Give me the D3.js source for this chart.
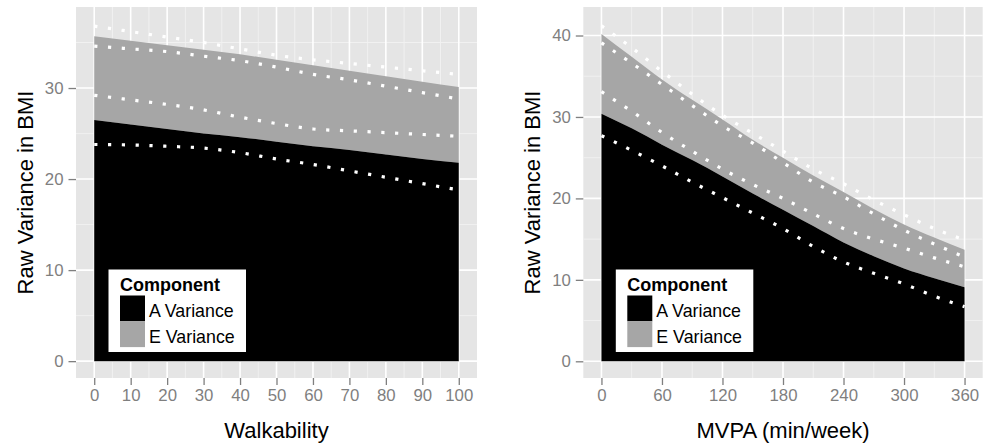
<!DOCTYPE html>
<html>
<head>
<meta charset="utf-8">
<script src="https://cdn.jsdelivr.net/npm/d3@7"></script>
<style>
  html, body { margin: 0; padding: 0; background: #ffffff; }
  svg { display: block; font-family: "Liberation Sans", Arial, sans-serif; }
</style>
</head>
<body>
<svg id="chart" width="989" height="446"></svg>
<script>
// ---------- DATA ----------
const legendTitle = "Component";
const components = ["A Variance", "E Variance"];
const yTitle = "Raw Variance in BMI";

// Left panel: Walkability
const walkX = [0, 10, 20, 30, 40, 50, 60, 70, 80, 90, 100];
const walkA = [26.5, 26.0, 25.5, 25.0, 24.6, 24.1, 23.6, 23.2, 22.7, 22.2, 21.8];
const walkTotal = [35.7, 35.2, 34.7, 34.2, 33.7, 33.1, 32.5, 31.9, 31.3, 30.7, 30.1];
const walkTotalHi = [36.8, 36.2, 35.6, 35.0, 34.3, 33.6, 33.1, 32.7, 32.3, 31.9, 31.5];
const walkTotalLo = [34.6, 34.3, 34.0, 33.5, 33.0, 32.3, 31.5, 30.9, 30.2, 29.5, 28.8];
const walkAHi = [29.2, 28.7, 28.2, 27.6, 26.8, 26.1, 25.5, 25.3, 25.1, 24.9, 24.7];
const walkALo = [23.8, 23.75, 23.6, 23.4, 22.9, 22.2, 21.6, 20.9, 20.2, 19.5, 18.8];
const walkXTicks = [0, 10, 20, 30, 40, 50, 60, 70, 80, 90, 100];
const walkYTicks = [0, 10, 20, 30];

// Right panel: MVPA
const mvpaX = [0, 30, 60, 90, 120, 150, 180, 210, 240, 270, 300, 330, 360];
const mvpaA = [30.4, 28.6, 26.6, 24.7, 22.7, 20.6, 18.6, 16.6, 14.6, 12.9, 11.4, 10.2, 9.1];
const mvpaTotal = [40.2, 37.4, 34.6, 32.1, 29.7, 27.2, 25.0, 22.8, 20.8, 18.7, 16.8, 15.2, 13.7];
const mvpaTotalHi = [41.2, 38.5, 35.6, 32.8, 30.2, 28.0, 25.8, 23.6, 21.8, 19.8, 18.0, 16.3, 14.9];
const mvpaTotalLo = [39.1, 36.6, 34.0, 31.4, 28.9, 26.8, 24.4, 22.0, 20.2, 18.1, 16.1, 14.4, 12.8];
const mvpaAHi = [33.1, 30.7, 28.1, 25.8, 23.6, 21.7, 20.0, 18.1, 16.3, 15.0, 13.9, 12.7, 11.6];
const mvpaALo = [27.7, 25.9, 24.0, 22.0, 20.1, 18.2, 16.3, 14.1, 12.2, 10.8, 9.5, 8.0, 6.7];
const mvpaXTicks = [0, 60, 120, 180, 240, 300, 360];
const mvpaYTicks = [0, 10, 20, 30, 40];

// ---------- DRAW ----------
const svg = d3.select("#chart");
const FONT = '"Liberation Sans", Arial, sans-serif';

function panel(cfg) {
  const g = svg.append("g");
  const x = d3.scaleLinear().domain(cfg.xDomain).range([cfg.left, cfg.right]);
  const y = d3.scaleLinear().domain(cfg.yDomain).range([cfg.bottom, cfg.top]);

  // background
  g.append("rect")
    .attr("x", cfg.left).attr("y", cfg.top)
    .attr("width", cfg.right - cfg.left).attr("height", cfg.bottom - cfg.top)
    .attr("fill", "#e5e5e5");

  // minor grid
  const xMinor = [];
  for (let i = 0; i < cfg.xTicks.length - 1; i++) xMinor.push((cfg.xTicks[i] + cfg.xTicks[i + 1]) / 2);
  const yMinor = [];
  for (let i = 0; i < cfg.yTicks.length - 1; i++) yMinor.push((cfg.yTicks[i] + cfg.yTicks[i + 1]) / 2);
  const yTop = cfg.yTicks[cfg.yTicks.length - 1] + (cfg.yTicks[1] - cfg.yTicks[0]) / 2;
  if (yTop < cfg.yDomain[1]) yMinor.push(yTop);

  g.selectAll(".xminor").data(xMinor).join("line")
    .attr("x1", d => x(d)).attr("x2", d => x(d))
    .attr("y1", cfg.top).attr("y2", cfg.bottom)
    .attr("stroke", "#f2f2f2").attr("stroke-width", 0.9);
  g.selectAll(".yminor").data(yMinor).join("line")
    .attr("y1", d => y(d)).attr("y2", d => y(d))
    .attr("x1", cfg.left).attr("x2", cfg.right)
    .attr("stroke", "#f2f2f2").attr("stroke-width", 0.9);
  // major grid
  g.selectAll(".xmajor").data(cfg.xTicks).join("line")
    .attr("x1", d => x(d)).attr("x2", d => x(d))
    .attr("y1", cfg.top).attr("y2", cfg.bottom)
    .attr("stroke", "#ffffff").attr("stroke-width", 1.6);
  g.selectAll(".ymajor").data(cfg.yTicks).join("line")
    .attr("y1", d => y(d)).attr("y2", d => y(d))
    .attr("x1", cfg.left).attr("x2", cfg.right)
    .attr("stroke", "#ffffff").attr("stroke-width", 1.6);

  const pts = cfg.xs.map((v, i) => ({ x: v, a: cfg.a[i], t: cfg.total[i] }));
  const curve = d3.curveMonotoneX;

  // E variance area (A top to total)
  g.append("path").datum(pts)
    .attr("d", d3.area().curve(curve).x(d => x(d.x)).y0(d => y(d.a)).y1(d => y(d.t)))
    .attr("fill", "#a6a6a6");
  // A variance area
  g.append("path").datum(pts)
    .attr("d", d3.area().curve(curve).x(d => x(d.x)).y0(y(0)).y1(d => y(d.a)))
    .attr("fill", "#000000");

  // dotted CI lines
  const line = d3.line().curve(curve).x(d => x(d[0])).y(d => y(d[1]));
  [cfg.totalHi, cfg.totalLo, cfg.aHi, cfg.aLo].forEach(arr => {
    g.append("path").datum(cfg.xs.map((v, i) => [v, arr[i]]))
      .attr("d", line)
      .attr("fill", "none")
      .attr("stroke", "#ffffff")
      .attr("stroke-width", 3.2)
      .attr("stroke-dasharray", "3.2,10.6");
  });

  // axes
  const xAxis = g.append("g").attr("transform", `translate(0,${cfg.bottom})`)
    .call(d3.axisBottom(x).tickValues(cfg.xTicks).tickSize(7).tickPadding(4).tickFormat(d3.format("d")));
  const yAxis = g.append("g").attr("transform", `translate(${cfg.left},0)`)
    .call(d3.axisLeft(y).tickValues(cfg.yTicks).tickSize(7.5).tickPadding(5).tickFormat(d3.format("d")));
  [xAxis, yAxis].forEach(ax => {
    ax.select(".domain").remove();
    ax.selectAll(".tick line").attr("stroke", "#7f7f7f").attr("stroke-width", 1.3);
    ax.selectAll(".tick text").attr("fill", "#7f7f7f")
      .attr("font-size", 16.8).attr("font-family", FONT);
  });
  xAxis.selectAll(".tick text").attr("dy", "0.72em");

  // axis titles
  g.append("text")
    .attr("x", (cfg.left + cfg.right) / 2).attr("y", 438)
    .attr("text-anchor", "middle").attr("font-size", 22).attr("font-family", FONT)
    .attr("fill", "#000").text(cfg.xTitle);
  g.append("text")
    .attr("transform", `translate(${cfg.left - 43},${(cfg.top + cfg.bottom) / 2}) rotate(-90)`)
    .attr("text-anchor", "middle").attr("font-size", 22).attr("font-family", FONT)
    .attr("fill", "#000").text(yTitle);

  // legend
  const lx = cfg.left + 32.5, ly = 269.5;
  const lg = g.append("g");
  lg.append("rect").attr("x", lx).attr("y", ly).attr("width", 137.5).attr("height", 82.5)
    .attr("fill", "#ffffff");
  lg.append("text").attr("x", lx + 11.5).attr("y", ly + 21.5)
    .attr("font-size", 18).attr("font-weight", "bold").attr("font-family", FONT)
    .attr("fill", "#000").text(legendTitle);
  const keyFill = ["#000000", "#a6a6a6"];
  components.forEach((c, i) => {
    lg.append("rect").attr("x", lx + 11.5).attr("y", ly + 26 + i * 25.8)
      .attr("width", 25).attr("height", 25.8).attr("fill", keyFill[i]);
    lg.append("text").attr("x", lx + 40.5).attr("y", ly + 47 + i * 26)
      .attr("font-size", 17.8).attr("font-family", FONT).attr("fill", "#000").text(c);
  });
}

panel({
  left: 76, right: 477, top: 7, bottom: 378,
  xDomain: [-5, 105], yDomain: [-1.85, 38.9],
  xs: walkX, a: walkA, total: walkTotal,
  totalHi: walkTotalHi, totalLo: walkTotalLo, aHi: walkAHi, aLo: walkALo,
  xTicks: walkXTicks, yTicks: walkYTicks, xTitle: "Walkability"
});
panel({
  left: 583.3, right: 982.7, top: 7, bottom: 378,
  xDomain: [-18, 378], yDomain: [-2.05, 43.5],
  xs: mvpaX, a: mvpaA, total: mvpaTotal,
  totalHi: mvpaTotalHi, totalLo: mvpaTotalLo, aHi: mvpaAHi, aLo: mvpaALo,
  xTicks: mvpaXTicks, yTicks: mvpaYTicks, xTitle: "MVPA (min/week)"
});
</script>
</body>
</html>
